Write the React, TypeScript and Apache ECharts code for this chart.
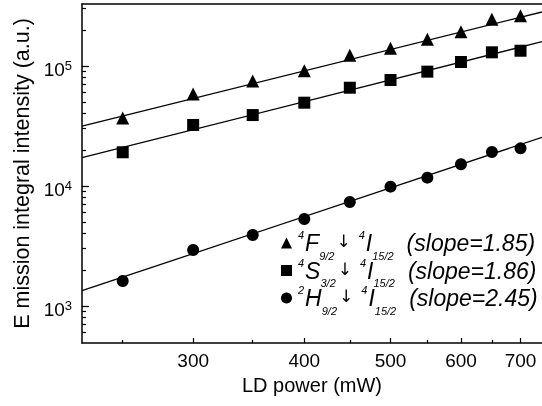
import React, { useEffect, useRef } from 'react';
import * as echarts from 'echarts';

const xPower = [250, 300, 350, 400, 450, 500, 550, 600, 650, 700];
const triValues = [36900, 58400, 75000, 91400, 122800, 140400, 166900, 193000, 245000, 262000];
const sqValues = [19100, 32250, 39000, 49450, 65900, 76400, 89700, 108000, 130000, 134000];
const circValues = [1615, 2930, 3905, 5310, 7360, 9870, 11730, 15170, 19200, 20600];

const fitX = [225, 740];
const fitTri = [31600, 281800];
const fitSq = [17200, 159400];
const fitCirc = [1341, 25460];

const xRange = [225, 740];
const yRange = [491.6, 328500];
const xMajor = [300, 400, 500, 600, 700];
const xMinor = [250, 350, 450, 550, 650];
const yMajor = [1000, 10000, 100000];
const yMinor = [600, 700, 800, 900, 2000, 3000, 4000, 5000, 6000, 7000, 8000, 9000,
  20000, 30000, 40000, 50000, 60000, 70000, 80000, 90000, 200000, 300000];

const seriesNames = ['F', 'S', 'H'];
const seriesSymbols = ['triangle', 'rect', 'circle'];
const upperStates = [['4', 'F', '9/2'], ['4', 'S', '3/2'], ['2', 'H', '9/2']];
const lowerState = ['4', 'I', '15/2'];
const slopes = ['1.85', '1.86', '2.45'];

const FONT = 'Liberation Sans';

export default function App() {
  const ref = useRef<HTMLDivElement>(null);
  useEffect(() => {
    if (!ref.current) return;
    const chart = echarts.init(ref.current, null, { renderer: 'svg' });
    const pts = [triValues, sqValues, circValues];
    const fits = [fitTri, fitSq, fitCirc];
    const sizes = [13, 12, 12];
    const scatter = seriesNames.map((n, k) => ({
      name: n,
      type: 'scatter',
      symbol: seriesSymbols[k],
      symbolSize: sizes[k],
      itemStyle: { color: '#000', opacity: 1 },
      data: xPower.map((x, i) => [x, pts[k][i]]),
      z: 3,
    }));
    const lines = fits.map((f, k) => ({
      name: 'fit' + k,
      type: 'line',
      symbol: 'none',
      lineStyle: { color: '#000', width: 1.3 },
      data: fitX.map((x, i) => [x, f[i]]),
      z: 2,
    }));
    const baseX = { type: 'log', logBase: 10, min: xRange[0], max: xRange[1], gridIndex: 0, splitLine: { show: false } };
    const baseY = { type: 'log', logBase: 10, min: yRange[0], max: yRange[1], gridIndex: 0, splitLine: { show: false } };
    const ts = (o: any) => ({ color: '#000', fontFamily: FONT, fontStyle: 'italic', ...o });
    chart.setOption({
      animation: false,
      grid: { left: 82, top: 4, right: 0, bottom: 63 },
      xAxis: [
        {
          ...baseX,
          position: 'bottom',
          name: 'LD power (mW)',
          nameLocation: 'middle',
          nameGap: 26,
          nameTextStyle: { fontSize: 20, color: '#000', fontFamily: FONT },
          axisLine: { show: true, lineStyle: { color: '#000', width: 1.5 } },
          axisTick: { show: true, inside: true, length: 5, customValues: xMajor, lineStyle: { color: '#000', width: 1.2 } },
          axisLabel: { show: true, customValues: xMajor, margin: 8, fontSize: 19, color: '#000', fontFamily: FONT },
        },
        {
          ...baseX,
          position: 'bottom',
          axisLine: { show: false },
          axisTick: { show: true, inside: true, length: 3, customValues: xMinor, lineStyle: { color: '#000', width: 1.2 } },
          axisLabel: { show: false },
        },
        {
          ...baseX,
          position: 'top',
          axisLine: { show: true, lineStyle: { color: '#000', width: 1.5 } },
          axisTick: { show: false },
          axisLabel: { show: false },
        },
      ],
      yAxis: [
        {
          ...baseY,
          position: 'left',
          name: 'E mission integral intensity (a.u.)',
          nameLocation: 'middle',
          nameGap: 48,
          nameRotate: 90,
          nameTextStyle: { fontSize: 21.5, color: '#000', fontFamily: FONT },
          axisLine: { show: true, lineStyle: { color: '#000', width: 1.5 } },
          axisTick: { show: true, inside: true, length: 7, customValues: yMajor, lineStyle: { color: '#000', width: 1.2 } },
          axisLabel: {
            show: true,
            customValues: yMajor,
            margin: 10,
            padding: [6, 0, 0, 0],
            color: '#000',
            fontFamily: FONT,
            formatter: (v: number) => '{b|10}{s|' + Math.round(Math.log10(v)) + '}',
            rich: {
              b: { fontSize: 19, lineHeight: 20, verticalAlign: 'bottom', color: '#000', fontFamily: FONT },
              s: { fontSize: 13, lineHeight: 10, verticalAlign: 'top', color: '#000', fontFamily: FONT },
            },
          },
        },
        {
          ...baseY,
          position: 'left',
          axisLine: { show: false },
          axisTick: { show: true, inside: true, length: 4, customValues: yMinor, lineStyle: { color: '#000', width: 1.2 } },
          axisLabel: { show: false },
        },
      ],
      legend: {
        show: true,
        orient: 'vertical',
        left: 281,
        top: 225,
        padding: 0,
        itemGap: -8.5,
        itemWidth: 11,
        itemHeight: 11,
        selectedMode: false,
        data: seriesNames.map((n, k) => ({ name: n, icon: seriesSymbols[k] })),
        textStyle: {
          fontSize: 23, lineHeight: 36, fontStyle: 'italic', color: '#000', fontFamily: FONT,
          rich: {
            m: ts({ fontSize: 23, lineHeight: 36, verticalAlign: 'middle' }),
            sup: ts({ fontSize: 11, verticalAlign: 'top', padding: [4.5, 1, 0, 1] }),
            sub: ts({ fontSize: 11, lineHeight: 4, verticalAlign: 'bottom' }),
            arr: ts({ fontSize: 17, fontFamily: 'DejaVu Sans', verticalAlign: 'middle', padding: [0, 7, 4, 2] }),
            sp: ts({ fontSize: 23, lineHeight: 36, verticalAlign: 'middle', width: 13 }),
          },
        },
        formatter: (name: string) => {
          const i = seriesNames.indexOf(name);
          const u = upperStates[i];
          return `{sup|${u[0]}}{m|${u[1]}}{sub|${u[2]}}{arr|↓}{sup|${lowerState[0]}}{m|${lowerState[1]}}{sub|${lowerState[2]}}{sp| }{m|(slope=${slopes[i]})}`;
        },
      },
      series: [...lines, ...scatter],
    });
    return () => chart.dispose();
  }, []);
  return <div ref={ref} style={{ position: 'fixed', left: 0, top: 0, width: 542, height: 406 }} />;
}
